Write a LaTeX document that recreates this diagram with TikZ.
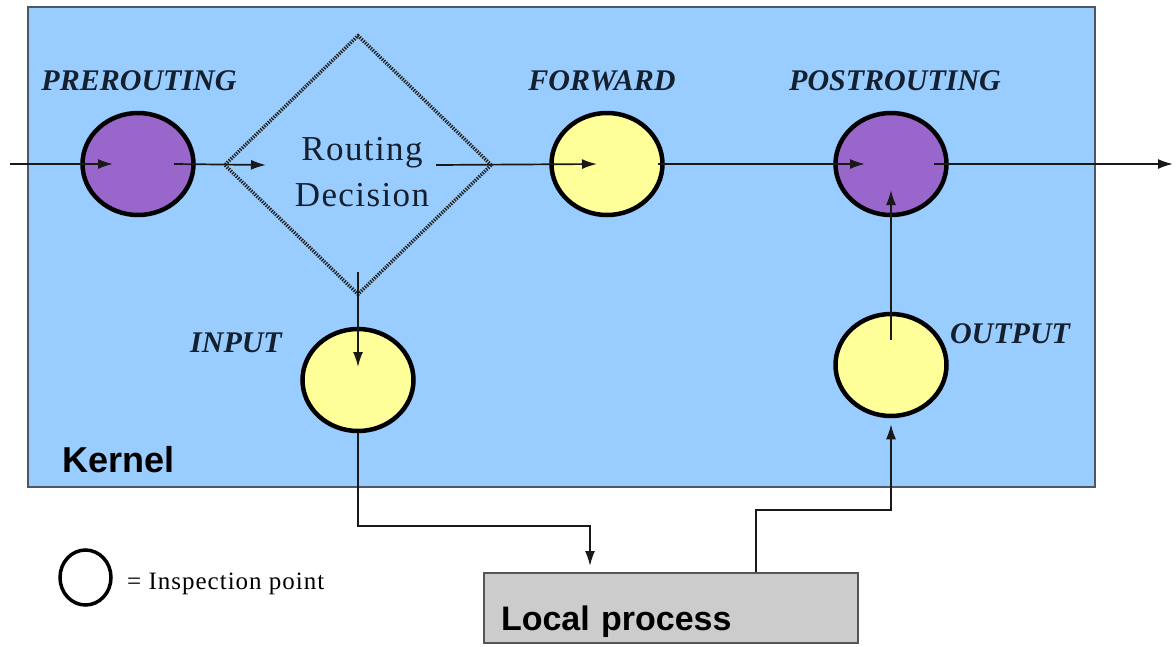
\documentclass[tikz,border=0pt]{standalone}
\usepackage{fontspec}
\setmainfont{Liberation Serif}
\setsansfont{Liberation Sans}
\usetikzlibrary{shapes.geometric,arrows.meta}
\definecolor{kernelblue}{HTML}{99CCFF}
\definecolor{kernelline}{HTML}{4F5664}
\definecolor{hookpurple}{HTML}{9966CC}
\definecolor{hookyellow}{HTML}{FFFF99}
\definecolor{procgray}{HTML}{CCCCCC}
\definecolor{procline}{HTML}{555555}
\definecolor{inkblue}{HTML}{15202F}
\begin{document}
\begin{tikzpicture}
  [x=1pt,y=-1pt,every node/.style={inner sep=0pt}]
  \tikzstyle{hook} = [ellipse,draw=black,line width=4.5pt,minimum width=111pt,minimum height=102pt]
  \tikzstyle{hookname} = [font=\fontsize{30}{36}\selectfont\bfseries\itshape,text=inkblue,anchor=base]
  \tikzstyle{flow} = [draw=black!90,line width=1.7pt,-{Latex[length=15pt,width=10pt]}]
  \useasboundingbox (0,0) rectangle (1176,646);
  % kernel area
  \node (kernel) [draw=kernelline,fill=kernelblue,line width=2pt,minimum width=1067pt,minimum height=480pt] at (561.5,247) {};
  \node (kernelname) [font=\sffamily\bfseries\fontsize{36}{40}\selectfont,anchor=base west] at (62,472) {Kernel};
  % hooks
  \node (pre) [hook,fill=hookpurple] at (138,164) {};
  \node (fwd) [hook,fill=hookyellow] at (607,164) {};
  \node (post) [hook,fill=hookpurple] at (891,164) {};
  \node (inp) [hook,fill=hookyellow] at (358,380) {};
  \node (outp) [hook,fill=hookyellow] at (891,365) {};
  \node (prename) [hookname] at (139,90) {PREROUTING};
  \node (fwdname) [hookname] at (602,90) {FORWARD};
  \node (postname) [hookname] at (895,90) {POSTROUTING};
  \node (inpname) [hookname] at (236,352) {INPUT};
  \node (outpname) [hookname] at (1010,343) {OUTPUT};
  % routing decision
  \node (route) [diamond,draw=black!85,line width=3.5pt,dash pattern=on 1.4pt off 1.2pt,minimum width=268pt,minimum height=260pt] at (358,165) {};
  \node (routetxt) [font=\fontsize{35}{46}\selectfont\addfontfeature{LetterSpace=4},text=inkblue,align=center] at (362,172) {Routing\\Decision};
  % user space
  \node (local) [draw=procline,fill=procgray,line width=2pt,minimum width=374pt,minimum height=70pt,
    text width=340pt,inner xsep=17pt,align=left,text height=44pt,text depth=0pt,
    font=\sffamily\bfseries\fontsize{34}{40}\selectfont] at (671,608) {Local process};
  \node (legend) [ellipse,draw=black,line width=3.5pt,fill=white,minimum width=51pt,minimum height=55pt] at (85.5,577.5) {};
  \node (legendtxt) [font=\fontsize{25}{30}\selectfont\addfontfeature{LetterSpace=4},anchor=base west] at (127,589) {= Inspection point};
  % packet paths
  \coordinate (wirein) at (10,164);
  \coordinate (wireout) at (1173,164);
  \draw[flow] (wirein) -- ([xshift=-25pt]pre.center);
\foreach \src/\dx/\dst/\tx in {pre/36/route/-92,route/78/fwd/-10,fwd/51/post/-26}
   \draw[flow] ([xshift=\dx pt]\src.center) -- ([xshift=\tx pt]\dst.center);
  \draw[flow] ([xshift=43pt]post.center) -- (wireout);
  \draw[flow] ([yshift=-107pt]route.center) -- ([yshift=13pt]inp.center);
  \draw[flow] (inp.south) |- ([xshift=-81pt,yshift=46pt]local.north) -- ([xshift=-81pt,yshift=6pt]local.north);
  \draw[flow] ([xshift=85pt]local.north) |- ([yshift=-92pt]outp.south) -- ([yshift=-6pt]outp.south);
  \draw[flow] ([yshift=25pt]outp.center) -- ([yshift=-26pt]post.center);
\end{tikzpicture}
\end{document}
